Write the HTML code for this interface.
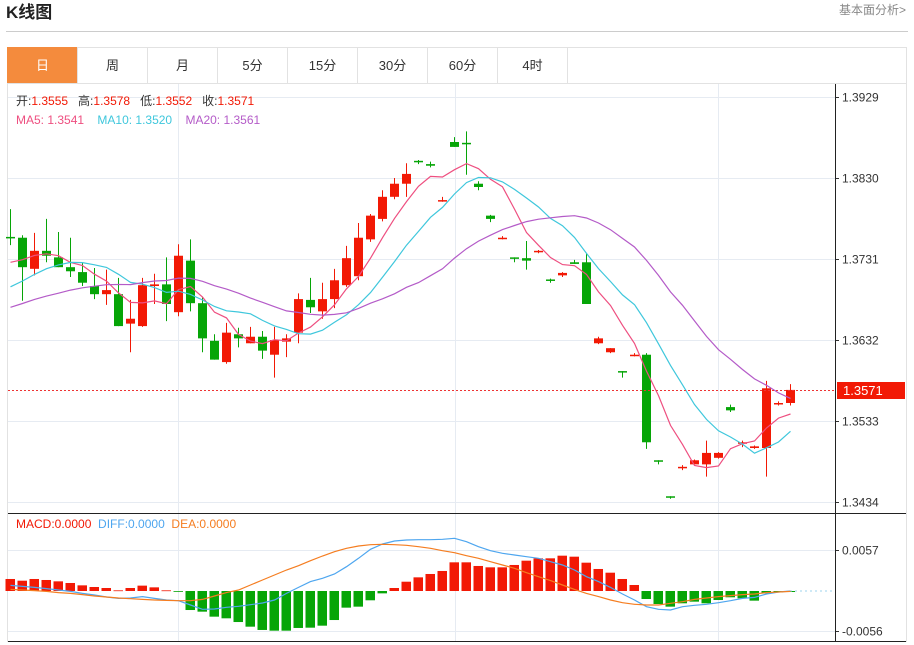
<!DOCTYPE html>
<html><head><meta charset="utf-8"><style>
body{margin:0;background:#fff;width:914px;height:645px;overflow:hidden;font-family:"Liberation Sans","Noto Sans CJK SC",sans-serif;}
svg{position:absolute;left:0;top:0}
text{font-family:"Liberation Sans","Noto Sans CJK SC",sans-serif}
</style></head><body>
<svg id="c" width="914" height="645">
<text x="6" y="18" font-size="17" font-weight="bold" fill="#222">K线图</text>
<text x="906" y="14" font-size="12" fill="#888" text-anchor="end">基本面分析&gt;</text>
<line x1="6" y1="31.5" x2="908" y2="31.5" stroke="#ccc"/>
<rect x="7.5" y="47.5" width="899" height="594" fill="none" stroke="#e2e2e2"/>
<g id="tabs"></g>
<g id="grid"></g><g id="marks"></g>
</svg>
<script>
const tabLabels=["日","周","月","5分","15分","30分","60分","4时"];
const priorCloses=[1.3630,1.3640,1.3655,1.3650,1.3640,1.3645,1.3650,1.3655,1.3645,1.3660,1.3650,1.3660,1.3665,1.3675,1.3685,1.3705,1.3715,1.3725,1.3733];
const opens=[1.3758,1.3757,1.3719,1.3741,1.3733,1.3721,1.3715,1.3698,1.3688,1.3688,1.3652,1.3649,1.3698,1.3700,1.3666,1.3729,1.3677,1.3631,1.3605,1.3639,1.3628,1.3636,1.3614,1.3630,1.3641,1.3681,1.3667,1.3682,1.3699,1.3710,1.3755,1.3780,1.3807,1.3823,1.3851,1.3847,1.3802,1.3874,1.3873,1.3823,1.3784,1.3756,1.3733,1.3732,1.3740,1.3706,1.3711,1.3727,1.3727,1.3628,1.3617,1.3594,1.3613,1.3614,1.3485,1.3441,1.3476,1.3480,1.3480,1.3488,1.3550,1.3506,1.3500,1.3500,1.3554,1.3555];
const highs=[1.3792,1.3760,1.3763,1.3780,1.3764,1.3757,1.3726,1.3720,1.3718,1.3708,1.3681,1.3708,1.3713,1.3733,1.3749,1.3755,1.3685,1.3639,1.3653,1.3647,1.3648,1.3643,1.3648,1.3639,1.3689,1.3708,1.3702,1.3719,1.3747,1.3775,1.3786,1.3815,1.3830,1.3848,1.3852,1.3850,1.3807,1.3880,1.3887,1.3826,1.3785,1.3759,1.3733,1.3753,1.3742,1.3707,1.3715,1.3730,1.3738,1.3636,1.3622,1.3594,1.3616,1.3616,1.3485,1.3441,1.3479,1.3486,1.3509,1.3495,1.3553,1.3509,1.3503,1.3582,1.3557,1.3578];
const lows=[1.3748,1.3680,1.3711,1.3727,1.3721,1.3709,1.3698,1.3682,1.3675,1.3649,1.3617,1.3648,1.3676,1.3655,1.3661,1.3667,1.3617,1.3608,1.3603,1.3623,1.3628,1.3609,1.3586,1.3611,1.3628,1.3665,1.3658,1.3671,1.3697,1.3705,1.3752,1.3777,1.3804,1.3807,1.3847,1.3843,1.3801,1.3868,1.3834,1.3815,1.3776,1.3755,1.3727,1.3718,1.3738,1.3702,1.3709,1.3725,1.3676,1.3627,1.3616,1.3586,1.3612,1.3499,1.3480,1.3438,1.3473,1.3480,1.3465,1.3487,1.3544,1.3501,1.3499,1.3465,1.3552,1.3552];
const closes=[1.3757,1.3721,1.3741,1.3735,1.3721,1.3716,1.3702,1.3688,1.3693,1.3649,1.3658,1.3699,1.3700,1.3676,1.3735,1.3677,1.3634,1.3608,1.3641,1.3634,1.3636,1.3619,1.3632,1.3634,1.3682,1.3672,1.3682,1.3705,1.3732,1.3757,1.3784,1.3807,1.3823,1.3835,1.3850,1.3845,1.3803,1.3868,1.3872,1.3819,1.3780,1.3757,1.3732,1.3729,1.3741,1.3705,1.3714,1.3725,1.3676,1.3634,1.3622,1.3593,1.3614,1.3507,1.3484,1.3440,1.3477,1.3485,1.3494,1.3494,1.3546,1.3507,1.3502,1.3573,1.3555,1.3571];
const macdHist=[.00168,.00144,.00168,.00154,.00135,.00112,.00079,.00056,.00042,.00009,.00042,.00075,.00051,.00009,-.00005,-.00266,-.00289,-.00359,-.00382,-.00434,-.00499,-.00545,-.00555,-.00555,-.00517,-.00513,-.00485,-.00406,-.00233,-.00219,-.00130,-.00033,.00042,.00130,.00191,.00238,.00280,.00401,.00401,.00350,.00331,.00331,.00364,.00424,.00457,.00457,.00494,.00480,.00396,.00308,.00256,.00168,.00084,-.00112,-.00182,-.00219,-.00172,-.00149,-.00172,-.00126,-.00088,-.00102,-.00135,-.00033,-.00019,-.00014];
const diffVals=[.00079,.00065,.00051,.00033,.00014,-.00005,-.00033,-.00056,-.00084,-.00103,-.00098,-.00079,-.00103,-.00126,-.00135,-.00196,-.00256,-.00252,-.00228,-.00214,-.00191,-.00168,-.00126,-.00033,.00051,.00131,.00177,.00238,.00340,.00457,.00583,.00657,.00699,.00713,.00718,.00718,.00723,.00737,.00690,.00620,.00564,.00527,.00503,.00480,.00457,.00410,.00364,.00294,.00200,.00131,.00051,-.00042,-.00126,-.00219,-.00256,-.00266,-.00219,-.00200,-.00186,-.00163,-.00135,-.00103,-.00089,-.00042,-.00014,0];
const deaVals=[.00023,.00014,.00005,-.00005,-.00023,-.00033,-.00051,-.00070,-.00084,-.00098,-.00107,-.00117,-.00126,-.00131,-.00135,-.00135,-.00117,-.00070,-.00023,.00014,.00084,.00154,.00224,.00294,.00354,.00424,.00490,.00550,.00597,.00629,.00648,.00653,.00648,.00639,.00620,.00597,.00564,.00536,.00494,.00457,.00410,.00364,.00317,.00256,.00200,.00145,.00084,.00023,-.00033,-.00079,-.00126,-.00163,-.00186,-.00196,-.00196,-.00172,-.00149,-.00117,-.00098,-.00079,-.00065,-.00051,-.00042,-.00023,-.00014,-.00005];
const priceTicks=[1.3929,1.3830,1.3731,1.3632,1.3533,1.3434];
const macdTicks=[0.0057,-0.0056];
const lastPrice=1.3571;

const NS="http://www.w3.org/2000/svg";
function mk(tag,attrs,parent){const e=document.createElementNS(NS,tag);for(const k in attrs)e.setAttribute(k,attrs[k]);(parent||document.getElementById('marks')).appendChild(e);return e;}
const yP=p=>97+(1.3929-p)/0.0099*81;
const xI=i=>10+12*i;
const yM=v=>591-v*7150;
const RED="#f21905",GREEN="#06a507";

const tabs=document.getElementById('tabs');
tabLabels.forEach((t,i)=>{
  const g=mk('g',{},tabs);
  
  
  mk('rect',{x:7.5+70*i,y:47.5,width:70,height:36,fill:i==0?"#f48b3d":"#fff",stroke:i==0?"#f48b3d":"#e2e2e2"},g);
  const tx=mk('text',{x:42.5+70*i,y:70,"font-size":13,"text-anchor":"middle",fill:i==0?"#fff":"#333"},g);
  tx.textContent=t;
});
mk('line',{x1:7,y1:83.5,x2:907,y2:83.5,stroke:"#e2e2e2"},tabs);

const grid=document.getElementById('grid');
priceTicks.forEach(p=>{
  const y=Math.round(yP(p))+0.5;
  const l=mk('line',{x1:8,y1:y,x2:835,y2:y,stroke:"#e6ebf2"},grid);
  
  
  mk('line',{x1:835,y1:y,x2:839,y2:y,stroke:"#333"},grid);
  const t=mk('text',{x:842,y:y+4,"font-size":12,fill:"#333"},grid);
  
  
  t.textContent=p.toFixed(4);
});
macdTicks.forEach(v=>{
  const y=Math.round(yM(v))+0.5;
  mk('line',{x1:8,y1:y,x2:835,y2:y,stroke:"#e6ebf2"},grid);
  mk('line',{x1:835,y1:y,x2:839,y2:y,stroke:"#333"},grid);
  const t=mk('text',{x:842,y:y+4,"font-size":12,fill:"#333"},grid);
  
  
  t.textContent=v.toFixed(4);
});
[178,455,718].forEach(x=>{mk('line',{x1:x+.5,y1:84,x2:x+.5,y2:641,stroke:"#e6ebf2"},grid);});
mk('line',{x1:835.5,y1:84,x2:835.5,y2:642,stroke:"#222"},grid);
mk('line',{x1:8,y1:513.5,x2:906,y2:513.5,stroke:"#222"},grid);
mk('line',{x1:8,y1:641.5,x2:906,y2:641.5,stroke:"#222"},grid);

const n=closes.length;
for(let i=0;i<n;i++){
  const up=closes[i]>=opens[i];const col=up?RED:GREEN;const x=xI(i);
  const g=mk('g',{});
  
  
  mk('line',{x1:x+.5,y1:yP(highs[i]),x2:x+.5,y2:yP(lows[i]),stroke:col},g);
  const t=Math.min(yP(opens[i]),yP(closes[i])),b=Math.max(yP(opens[i]),yP(closes[i]));
  mk('rect',{x:x-4,y:t,width:9,height:Math.max(1.5,b-t),fill:col},g);
}
const all=priorCloses.concat(closes),off=priorCloses.length;
function ma(k){return closes.map((c,i)=>{let s=0;for(let j=0;j<k;j++)s+=all[off+i-j];return s/k;});}
[[5,"#ee4f80"],[10,"#3fc7dc"],[20,"#b45bc8"]].forEach(([k,c])=>{
  const v=ma(k);
  const p=mk('polyline',{points:v.map((m,i)=>xI(i)+.5+","+yP(m).toFixed(1)).join(" "),fill:"none",stroke:c,"stroke-width":1.2});
  
  
});
const ly=Math.round(yP(lastPrice))+0.5;
mk('line',{x1:8,y1:ly,x2:835,y2:ly,stroke:"#e33","stroke-dasharray":"2,2"});
const lb=mk('rect',{x:837,y:ly-8.5,width:68,height:17,fill:"#f21905"});


const lt=mk('text',{x:843,y:ly+4.5,"font-size":13,fill:"#fff"});lt.textContent=lastPrice.toFixed(4);

for(let i=0;i<macdHist.length;i++){
  const h=macdHist[i];const y0=yM(0),y1=yM(h);
  const r=mk('rect',{x:xI(i)-4.5,y:Math.min(y0,y1),width:9.5,height:Math.max(0.8,Math.abs(y1-y0)),fill:h>=0?RED:GREEN});
  
  
}
mk('line',{x1:xI(n-1),y1:yM(0),x2:835,y2:yM(0),stroke:"#9cd3ee","stroke-dasharray":"2,3"});
[[diffVals,"#4ea6ef","diff-line"],[deaVals,"#f57d20","dea-line"]].forEach(([v,c,nm])=>{
  const p=mk('polyline',{points:v.map((m,i)=>xI(i)+.5+","+yM(m).toFixed(1)).join(" "),fill:"none",stroke:c,"stroke-width":1.2});
  
  
});
</script>
<div style="position:absolute;left:16px;top:92px;font-size:12px;line-height:19px;color:#333">
<div>开:<span style="color:#f21905">1.3555</span>&nbsp;&nbsp; 高:<span style="color:#f21905">1.3578</span>&nbsp;&nbsp; 低:<span style="color:#f21905">1.3552</span>&nbsp;&nbsp; 收:<span style="color:#f21905">1.3571</span></div>
<div><span style="color:#ee4f80">MA5: 1.3541</span>&nbsp;&nbsp;&nbsp; <span style="color:#3fc7dc">MA10: 1.3520</span>&nbsp;&nbsp;&nbsp; <span style="color:#b45bc8">MA20: 1.3561</span></div>
</div>
<div style="position:absolute;left:16px;top:516px;font-size:12px;line-height:16px">
<span style="color:#f21905">MACD:0.0000</span>&nbsp; <span style="color:#4ea6ef">DIFF:0.0000</span>&nbsp; <span style="color:#f57d20">DEA:0.0000</span>
</div>
</body></html>
